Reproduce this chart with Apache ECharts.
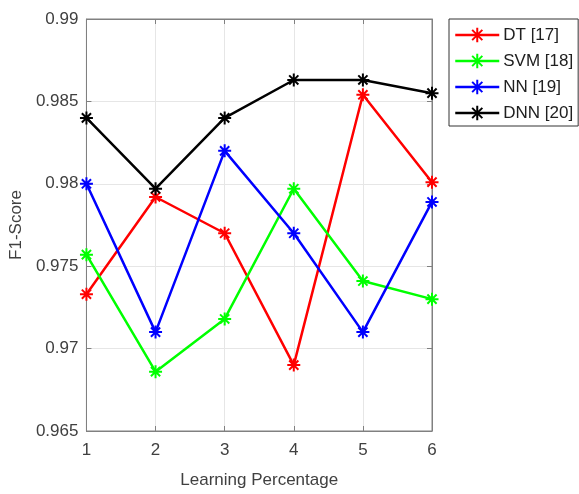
<!DOCTYPE html>
<html><head><meta charset="utf-8">
<script src="https://cdn.jsdelivr.net/npm/echarts@6/dist/echarts.min.js"></script>
<style>html,body{margin:0;padding:0;background:#fff}#c{width:579px;height:494px}</style>
</head><body><div id="c"></div>
<script>
const categories = [1, 2, 3, 4, 5, 6];
const seriesNames = ['DT [17]', 'SVM [18]', 'NN [19]', 'DNN [20]'];
const dtValues  = [0.9733, 0.9792, 0.9770, 0.9690, 0.9854, 0.9801];
const svmValues = [0.9757, 0.9686, 0.9718, 0.9797, 0.9741, 0.9730];
const nnValues  = [0.9800, 0.9710, 0.9820, 0.9770, 0.9710, 0.9789];
const dnnValues = [0.9840, 0.9797, 0.9840, 0.9863, 0.9863, 0.9855];
const yTicks = [0.965, 0.97, 0.975, 0.98, 0.985, 0.99];

const colors = ['#ff0000', '#00ff00', '#0000ff', '#000000'];
const allValues = [dtValues, svmValues, nnValues, dnnValues];
const star = 'path://M0,-10L0,10M-10,0L10,0M-7.07,-7.07L7.07,7.07M-7.07,7.07L7.07,-7.07';
const font = 'Liberation Sans, Arial, sans-serif';

const series = seriesNames.map((n, i) => ({
  name: n, type: 'line',
  data: categories.map((c, j) => [c, allValues[i][j]]),
  symbol: star, symbolSize: 13, showSymbol: true,
  lineStyle: { color: colors[i], width: 2.5 },
  itemStyle: { color: colors[i], borderColor: colors[i], borderWidth: 2 },
  emphasis: { disabled: true },
  animation: false
}));

const chart = echarts.init(document.getElementById('c'));
chart.setOption({
  animation: false,
  grid: { left: 81, right: 147, top: 19, bottom: 60, show: true, borderColor: '#808080', borderWidth: 1 },
  xAxis: [{
    type: 'value', min: 1, max: 6, interval: 1,
    name: 'Learning Percentage', nameLocation: 'middle', nameGap: 41,
    nameTextStyle: { fontFamily: font, fontSize: 17, color: '#404040' },
    axisLine: { show: true, lineStyle: { color: '#808080', width: 1 } },
    axisTick: { show: true, inside: true, length: 5, lineStyle: { color: '#808080' } },
    axisLabel: { fontFamily: font, fontSize: 17, color: '#404040', margin: 11 },
    splitLine: { show: true, lineStyle: { color: '#e6e6e6', width: 1 } }
  }, {
    type: 'value', min: 1, max: 6, interval: 1, position: 'top',
    axisLine: { show: true, lineStyle: { color: '#808080' } },
    axisTick: { show: true, inside: true, length: 5, lineStyle: { color: '#808080' } },
    axisLabel: { show: false }, splitLine: { show: false }
  }],
  yAxis: [{
    type: 'value', min: 0.965, max: 0.99, interval: 0.005,
    name: 'F1-Score', nameLocation: 'middle', nameGap: 57, nameRotate: 90,
    nameTextStyle: { fontFamily: font, fontSize: 17, color: '#404040' },
    axisLine: { show: true, lineStyle: { color: '#808080', width: 1 } },
    axisTick: { show: true, inside: true, length: 5, lineStyle: { color: '#808080' } },
    axisLabel: { fontFamily: font, fontSize: 17, color: '#404040', margin: 8,
      formatter: v => { const t = yTicks.find(x => Math.abs(x - v) < 1e-9); return t === undefined ? '' : String(t); } },
    splitLine: { show: true, lineStyle: { color: '#e6e6e6', width: 1 } }
  }, {
    type: 'value', min: 0.965, max: 0.99, interval: 0.005, position: 'right',
    axisLine: { show: true, lineStyle: { color: '#808080' } },
    axisTick: { show: true, inside: true, length: 5, lineStyle: { color: '#808080' } },
    axisLabel: { show: false }, splitLine: { show: false }
  }],
  legend: {
    orient: 'vertical', left: 449, top: 19,
    padding: [6, 5, 3, 5], itemGap: 6, itemWidth: 44, itemHeight: 18,
    borderColor: '#333', borderWidth: 1, backgroundColor: '#fff',
    lineStyle: { width: 2.5 },
    itemStyle: { borderWidth: 2 },
    textStyle: { fontFamily: font, fontSize: 17, color: '#202020', lineHeight: 20, padding: [0, 0, 0, -1] },
    data: seriesNames
  },
  series: series
});
</script></body></html>
